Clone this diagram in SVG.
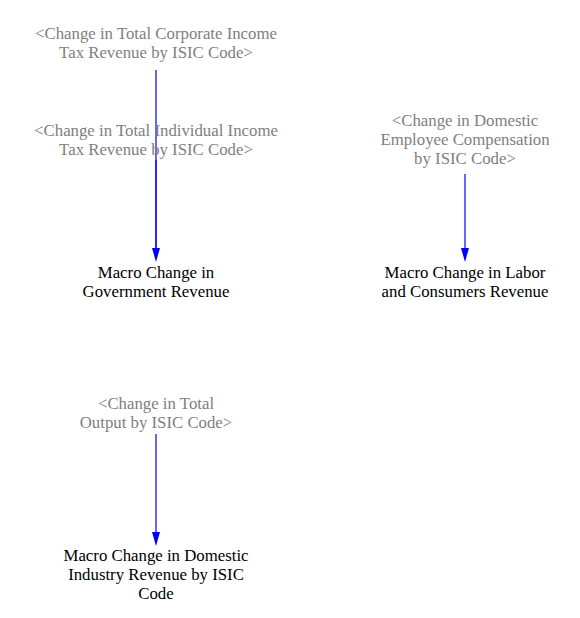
<svg xmlns="http://www.w3.org/2000/svg" width="580" height="618" viewBox="0 0 580 618">
<style>
text{font-family:"Liberation Serif","Times New Roman",serif;font-size:16.8px;text-anchor:middle}
.g{fill:#808080}
.b{fill:#000}
.c{stroke:#0000ff;stroke-width:1.2;fill:none}
.h{fill:#0000ff}
</style>
<rect width="580" height="618" fill="#fff"/>
<g id="connectors">
<path class="c" d="M156,70 L156,250"/>
<path class="c" d="M156,160 L156,250"/>
<path class="h" d="M152,248 L160,248 L156,262 Z"/>
<path class="c" d="M465,174 L465,250"/>
<path class="h" d="M461,248 L469,248 L465,262 Z"/>
<path class="c" d="M156,434 L156,534"/>
<path class="h" d="M152,532 L160,532 L156,546 Z"/>
</g>
<g id="corp_tax">
<text class="g" x="156" y="39">&lt;Change in Total Corporate Income</text>
<text class="g" x="156" y="58">Tax Revenue by ISIC Code&gt;</text>
</g>
<g id="indiv_tax">
<text class="g" x="156" y="136">&lt;Change in Total Individual Income</text>
<text class="g" x="156" y="155">Tax Revenue by ISIC Code&gt;</text>
</g>
<g id="gov_rev">
<text class="b" x="156" y="278">Macro Change in</text>
<text class="b" x="156" y="297">Government Revenue</text>
</g>
<g id="emp_comp">
<text class="g" x="465" y="126">&lt;Change in Domestic</text>
<text class="g" x="465" y="145">Employee Compensation</text>
<text class="g" x="465" y="164">by ISIC Code&gt;</text>
</g>
<g id="labor_rev">
<text class="b" x="465" y="278">Macro Change in Labor</text>
<text class="b" x="465" y="297">and Consumers Revenue</text>
</g>
<g id="total_output">
<text class="g" x="156" y="409">&lt;Change in Total</text>
<text class="g" x="156" y="428">Output by ISIC Code&gt;</text>
</g>
<g id="industry_rev">
<text class="b" x="156" y="561">Macro Change in Domestic</text>
<text class="b" x="156" y="580">Industry Revenue by ISIC</text>
<text class="b" x="156" y="599">Code</text>
</g>
</svg>
